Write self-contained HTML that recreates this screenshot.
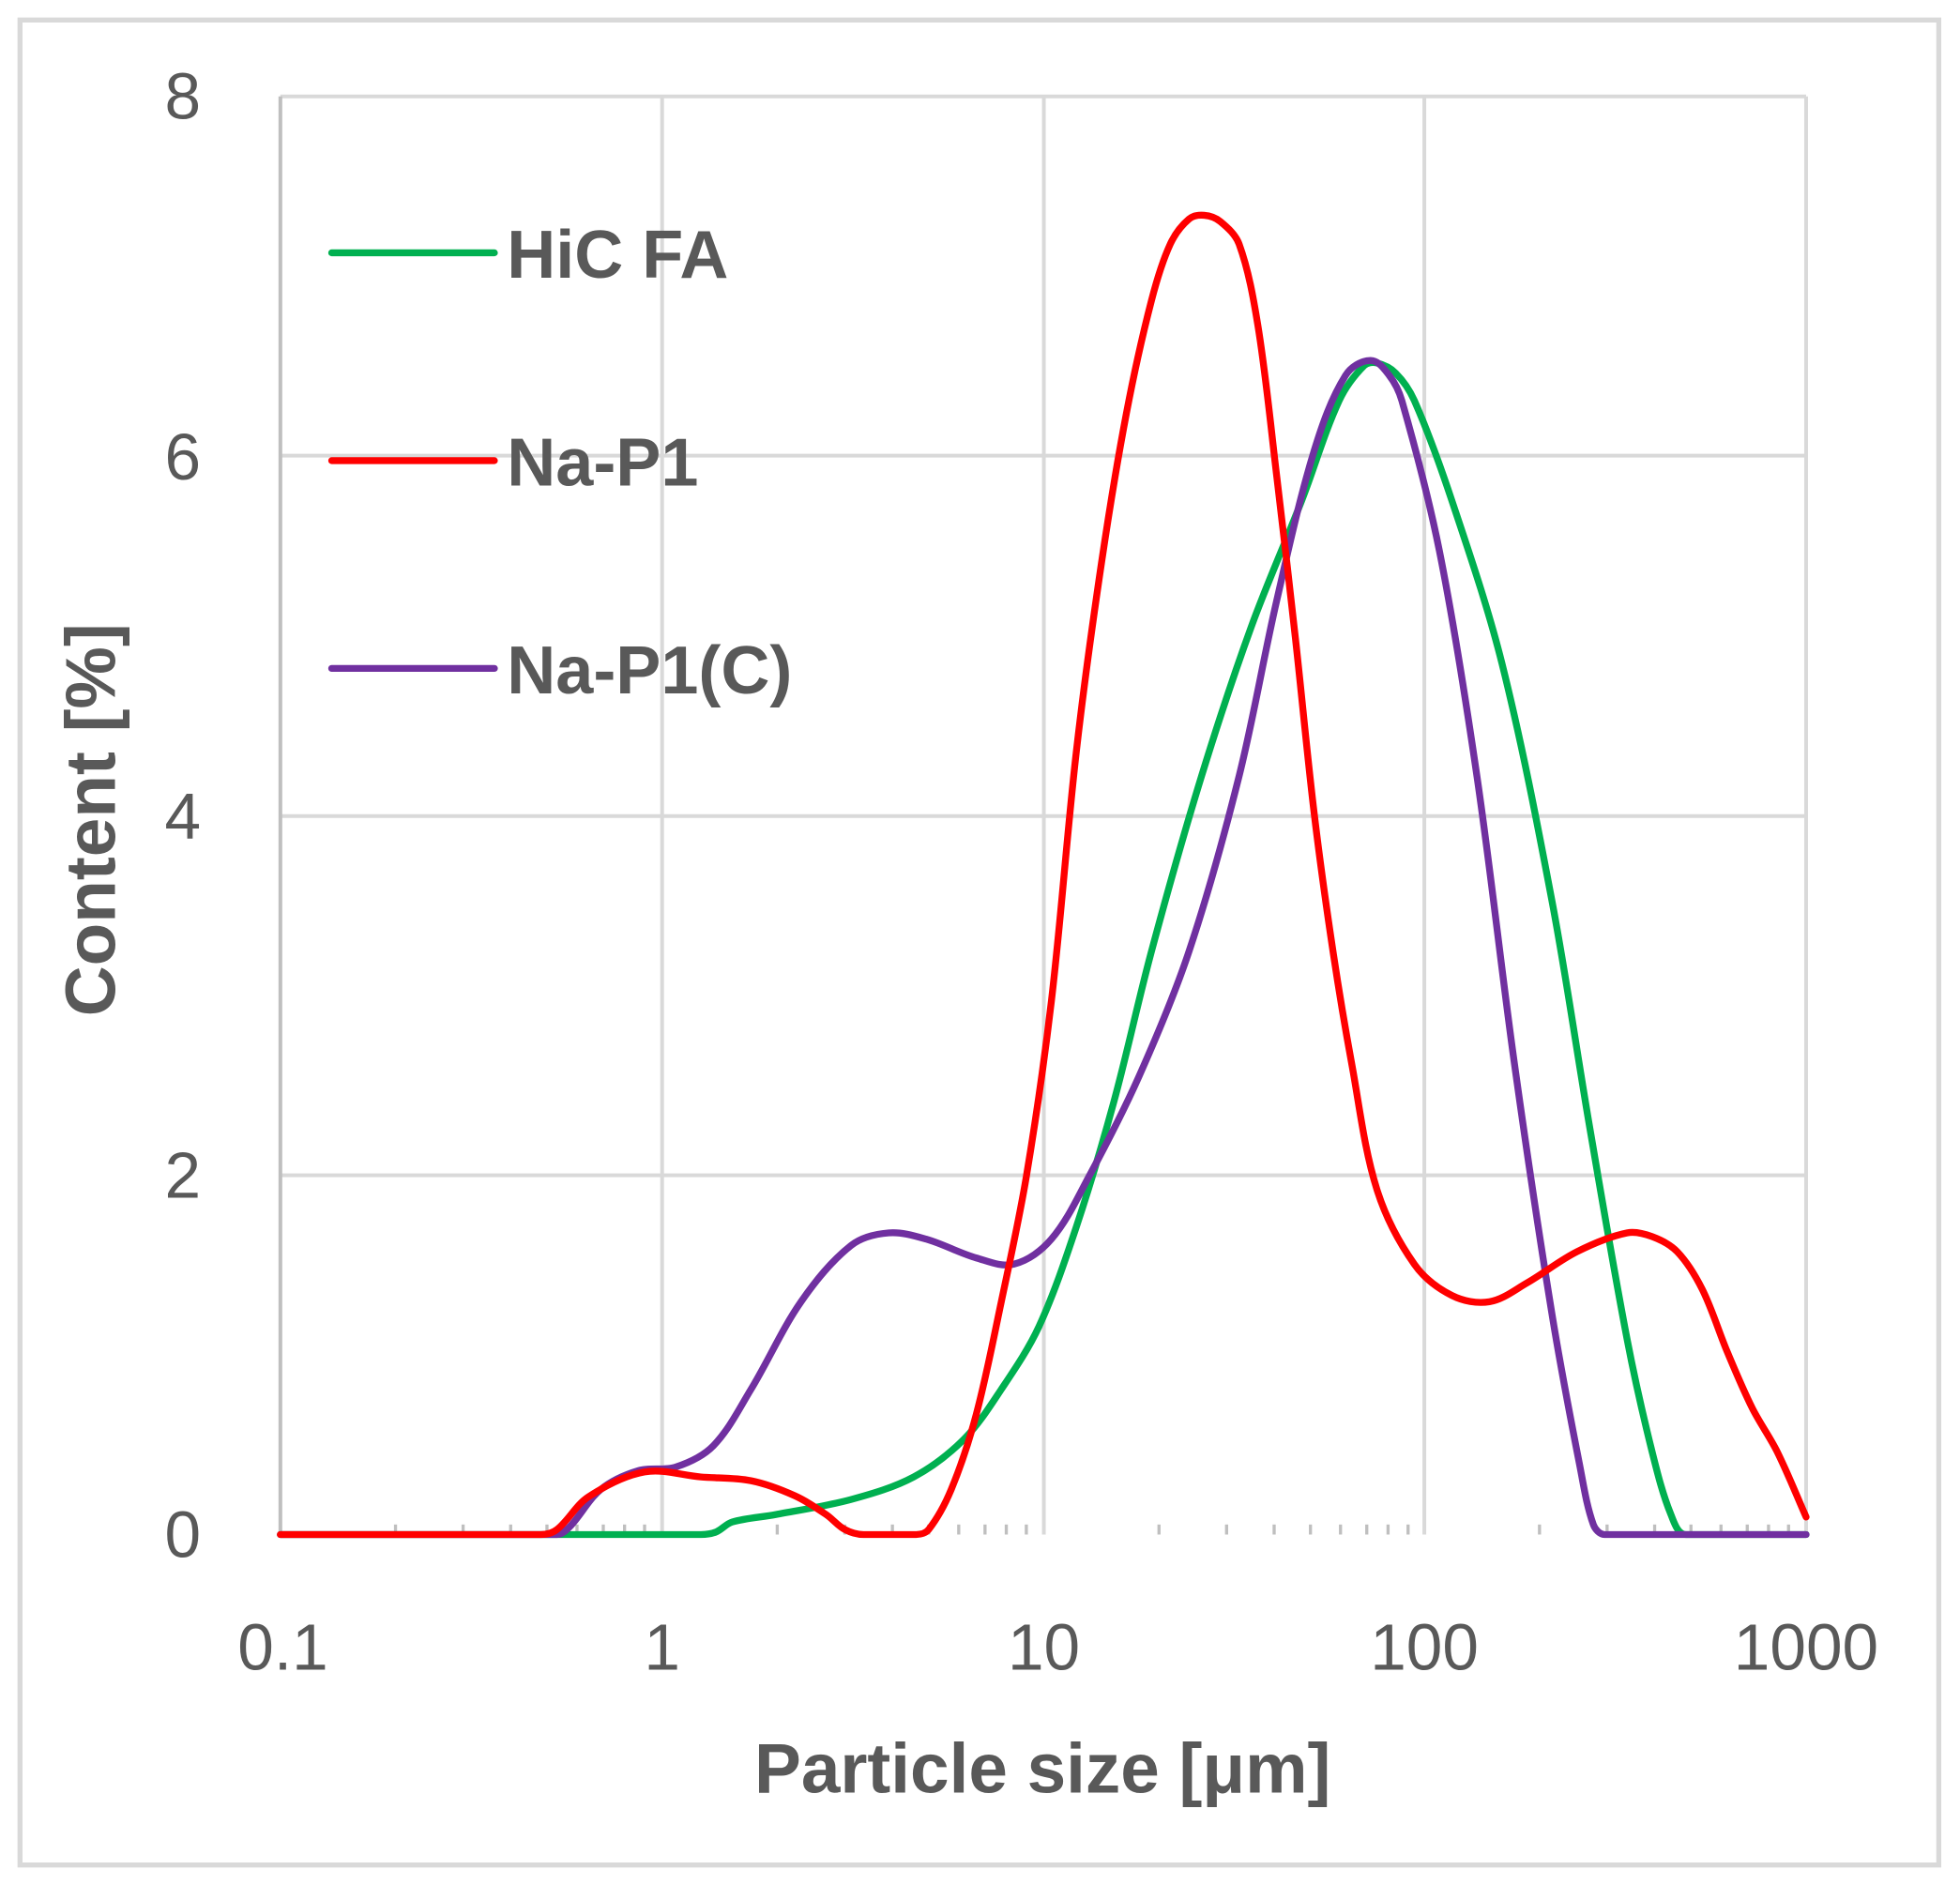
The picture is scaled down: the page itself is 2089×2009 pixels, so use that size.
<!DOCTYPE html>
<html><head><style>html,body{margin:0;padding:0;background:#fff}</style></head><body>
<svg width="2089" height="2004" viewBox="0 0 2089 2004" xmlns="http://www.w3.org/2000/svg">
<rect width="2089" height="2004" fill="#fff"/>
<g transform="scale(1.334)">
<rect x="16" y="16" width="1533" height="1474" fill="none" stroke="#d9d9d9" stroke-width="4"/>
<g stroke="#d9d9d9" stroke-width="3" fill="none">
<line x1="224" y1="77" x2="1443" y2="77"/>
<line x1="224" y1="364" x2="1443" y2="364"/>
<line x1="224" y1="652" x2="1443" y2="652"/>
<line x1="224" y1="939" x2="1443" y2="939"/>
<line x1="529" y1="77" x2="529" y2="1226"/>
<line x1="834" y1="77" x2="834" y2="1226"/>
<line x1="1138" y1="77" x2="1138" y2="1226"/>
<line x1="1443" y1="77" x2="1443" y2="1226"/>
<line x1="224" y1="77" x2="224" y2="1226" stroke="#bfbfbf"/>
</g>
<g stroke="#bfbfbf" stroke-width="2.5">
<line x1="316" y1="1218" x2="316" y2="1226"/><line x1="370" y1="1218" x2="370" y2="1226"/><line x1="408" y1="1218" x2="408" y2="1226"/><line x1="437" y1="1218" x2="437" y2="1226"/><line x1="461" y1="1218" x2="461" y2="1226"/><line x1="482" y1="1218" x2="482" y2="1226"/><line x1="499" y1="1218" x2="499" y2="1226"/><line x1="515" y1="1218" x2="515" y2="1226"/>
<line x1="621" y1="1218" x2="621" y2="1226"/><line x1="675" y1="1218" x2="675" y2="1226"/><line x1="713" y1="1218" x2="713" y2="1226"/><line x1="742" y1="1218" x2="742" y2="1226"/><line x1="766" y1="1218" x2="766" y2="1226"/><line x1="787" y1="1218" x2="787" y2="1226"/><line x1="804" y1="1218" x2="804" y2="1226"/><line x1="820" y1="1218" x2="820" y2="1226"/>
<line x1="926" y1="1218" x2="926" y2="1226"/><line x1="980" y1="1218" x2="980" y2="1226"/><line x1="1018" y1="1218" x2="1018" y2="1226"/><line x1="1047" y1="1218" x2="1047" y2="1226"/><line x1="1071" y1="1218" x2="1071" y2="1226"/><line x1="1092" y1="1218" x2="1092" y2="1226"/><line x1="1109" y1="1218" x2="1109" y2="1226"/><line x1="1125" y1="1218" x2="1125" y2="1226"/>
<line x1="1230" y1="1218" x2="1230" y2="1226"/><line x1="1284" y1="1218" x2="1284" y2="1226"/><line x1="1322" y1="1218" x2="1322" y2="1226"/><line x1="1351" y1="1218" x2="1351" y2="1226"/><line x1="1375" y1="1218" x2="1375" y2="1226"/><line x1="1396" y1="1218" x2="1396" y2="1226"/><line x1="1413" y1="1218" x2="1413" y2="1226"/><line x1="1429" y1="1218" x2="1429" y2="1226"/>
</g>
<g fill="none" stroke-width="5.5" stroke-linejoin="round" stroke-linecap="round">
<path id="g" stroke="#00b050" data-p="224,1226 560,1226 572,1224 585,1216 620,1210 680,1198 730,1180 770,1150 800,1110 830,1060 860,980 890,880 920,760 960,620 1000,500 1040,400 1070,320 1090,292 1100,290 1115,298 1130,320 1160,400 1200,530 1240,720 1270,900 1300,1070 1320,1160 1335,1210 1347,1226 1443,1226"/>
<path id="p" stroke="#7030a0" data-p="224,1226 445,1226 455,1220 480,1190 510,1175 540,1172 570,1155 600,1110 640,1040 680,995 710,985 740,990 780,1005 810,1010 840,990 870,940 910,860 950,760 990,620 1020,480 1050,360 1075,300 1095,288 1110,300 1120,320 1150,440 1180,620 1210,850 1240,1050 1262,1170 1273,1218 1282,1226 1443,1226"/>
<path id="r" stroke="#ff0000" data-p="224,1226 432,1226 445,1222 470,1196 515,1176 560,1180 600,1183 635,1195 660,1210 675,1222 690,1226 732,1226 742,1222 760,1190 780,1130 800,1040 820,940 840,800 860,600 880,450 900,330 920,240 935,195 950,175 962,172 975,177 990,195 1005,260 1020,380 1035,510 1050,650 1065,760 1080,850 1100,950 1130,1010 1160,1035 1190,1040 1220,1025 1260,1000 1300,985 1320,988 1340,1000 1360,1030 1380,1080 1400,1125 1420,1160 1443,1212"/>
<line x1="265" y1="202" x2="395" y2="202" stroke="#00b050"/>
<line x1="265" y1="368" x2="395" y2="368" stroke="#ff0000"/>
<line x1="265" y1="534" x2="395" y2="534" stroke="#7030a0"/>
</g>
<g font-family="Liberation Sans, sans-serif" fill="#595959">
<g font-size="54" font-weight="bold">
<text x="405" y="222">HiC FA</text>
<text x="405" y="388">Na-P1</text>
<text x="405" y="554">Na-P1(C)</text>
</g>
<g font-size="52" text-anchor="middle">
<text x="146" y="95">8</text>
<text x="146" y="383">6</text>
<text x="146" y="670">4</text>
<text x="146" y="957">2</text>
<text x="146" y="1244">0</text>
<text x="226" y="1334">0.1</text>
<text x="529" y="1334">1</text>
<text x="834" y="1334">10</text>
<text x="1138" y="1334">100</text>
<text x="1443" y="1334">1000</text>
</g>
<g font-size="56" font-weight="bold" text-anchor="middle">
<text x="833" y="1432">Particle size [μm]</text>
<text transform="translate(92,655) rotate(-90)">Content [%]</text>
</g>
</g>
</g>
</svg>
<script>
['g','p','r'].forEach(function(id){
var el=document.getElementById(id);
var P=el.getAttribute('data-p').split(' ').map(function(s){return s.split(',').map(Number);});
var n=P.length,T=[];
function len(a,b){return Math.hypot(b[0]-a[0],b[1]-a[1]);}
for(var i=0;i<n;i++){
var a=P[i>0?i-1:i],b=P[i<n-1?i+1:i];
var dx=b[0]-a[0],dy=b[1]-a[1],l=Math.hypot(dx,dy)||1;
if(i>0&&i<n-1&&P[i][1]==1226&&(P[i-1][1]==1226||P[i+1][1]==1226)){dx=1;dy=0;l=1;}
T.push([dx/l,dy/l]);
}
var d='M'+P[0][0]+','+P[0][1];
for(var i=0;i<n-1;i++){
var L=len(P[i],P[i+1])/3;
var c1=[P[i][0]+T[i][0]*L,Math.min(1226,P[i][1]+T[i][1]*L)];
var c2=[P[i+1][0]-T[i+1][0]*L,Math.min(1226,P[i+1][1]-T[i+1][1]*L)];
d+=' C'+c1[0]+','+c1[1]+' '+c2[0]+','+c2[1]+' '+P[i+1][0]+','+P[i+1][1];
}
el.setAttribute('d',d);
});
</script>
</body></html>
